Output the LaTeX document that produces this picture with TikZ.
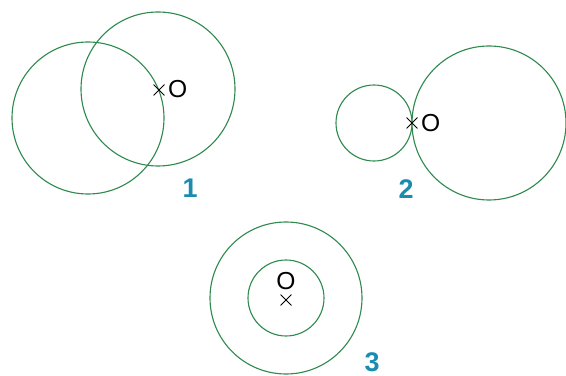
\documentclass[tikz,border=0pt]{standalone}
\usepackage{fontspec}
\setmainfont{Liberation Sans}
\usetikzlibrary{shapes.misc}
\definecolor{circgreen}{HTML}{2F8A4E}
\definecolor{numteal}{HTML}{1A8CB0}

\begin{document}
\begin{tikzpicture}[x=0.03cm,y=-0.03cm,
  circ/.style={circgreen,line width=0.95pt},
  cross/.style={cross out,draw=black,line width=0.75pt,minimum size=0.3cm,inner sep=0pt},
  ptlab/.style={font=\fontsize{21}{24}\selectfont,inner sep=0pt},
  numlab/.style={numteal,font=\fontsize{23}{26}\selectfont\bfseries,inner sep=0pt}]
  \useasboundingbox (0,0) rectangle (566,376);
  % figure 1
  \draw[circ] (88,118) circle[radius=76];
  \draw[circ] (158,89) circle[radius=77];
  \node[cross] (x1) at (159,90) {};
  \node[ptlab,anchor=west] (o1) at (168,89) {O};
  \node[numlab] (n1) at (190,188) {1};
  % figure 2
  \draw[circ] (374,123) circle[radius=38];
  \draw[circ] (489,123) circle[radius=77];
  \node[cross] (x2) at (412,123) {};
  \node[ptlab,anchor=west] (o2) at (421,123) {O};
  \node[numlab] (n2) at (406,189) {2};
  % figure 3
  \draw[circ] (286,298) circle[radius=76];
  \draw[circ] (286,298) circle[radius=38];
  \node[cross] (x3) at (286,300) {};
  \node[ptlab] (o3) at (286,281) {O};
  \node[numlab] (n3) at (372,362) {3};
\end{tikzpicture}
\end{document}
